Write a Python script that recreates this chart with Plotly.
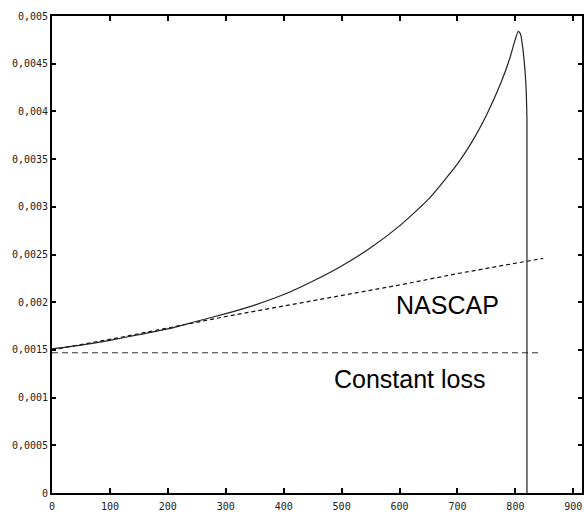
import plotly.graph_objects as go

# Solid curve (model)
curve_x = [0, 50, 100, 150, 200, 250, 300, 350, 400, 450, 500, 550, 600, 650, 700, 725, 750,
           775, 790, 800, 805, 809, 812, 815, 818, 820, 820]
curve_y = [0.00151, 0.00155, 0.00160, 0.00166, 0.00172, 0.00180, 0.00188, 0.00197, 0.00208,
           0.00222, 0.00238, 0.00257, 0.00280, 0.00308, 0.00345, 0.00368, 0.00396, 0.00430,
           0.00455, 0.00476, 0.00484, 0.00481, 0.00470, 0.00454, 0.00430, 0.00390, 0.0]

# NASCAP (dashed)
nascap_x = [0, 100, 200, 300, 400, 500, 600, 700, 800, 848]
nascap_y = [0.00150, 0.00161, 0.00173, 0.00185, 0.00196, 0.00207, 0.00218, 0.00230, 0.00241, 0.00246]

# Constant loss (dashed)
const_x = [0, 843]
const_y = [0.00147, 0.00147]

x_ticks = [0, 100, 200, 300, 400, 500, 600, 700, 800, 900]
y_ticks = [0, 0.0005, 0.001, 0.0015, 0.002, 0.0025, 0.003, 0.0035, 0.004, 0.0045, 0.005]
y_tick_labels = ["0", "0,0005", "0,001", "0,0015", "0,002", "0,0025", "0,003", "0,0035",
                 "0,004", "0,0045", "0,005"]

fig = go.Figure()
fig.add_trace(go.Scatter(x=const_x, y=const_y, mode="lines",
                         line=dict(color="#333333", width=1, dash="6px,4px"), showlegend=False))
fig.add_trace(go.Scatter(x=nascap_x, y=nascap_y, mode="lines",
                         line=dict(color="#111111", width=1.2, dash="4px,3px"), showlegend=False))
fig.add_trace(go.Scatter(x=curve_x, y=curve_y, mode="lines", line_shape="spline",
                         line=dict(color="#222222", width=1.2, smoothing=0.5), showlegend=False))

fig.add_annotation(x=682, y=0.00197, xref="x", yref="y", text="NASCAP", showarrow=False,
                   font=dict(family="Liberation Sans, Arial", size=25, color="black"))
fig.add_annotation(x=618, y=0.00120, xref="x", yref="y", text="Constant loss", showarrow=False,
                   font=dict(family="Liberation Sans, Arial", size=25, color="black"))

fig.update_layout(
    width=584, height=516,
    margin=dict(l=52, r=2, t=16, b=23),
    paper_bgcolor="white", plot_bgcolor="white",
    font=dict(family="DejaVu Sans Mono", size=10, color="black"),
    xaxis=dict(range=[0, 915], tickvals=x_ticks, ticks="inside", ticklen=5, tickwidth=1.5,
               tickcolor="black", showline=True, linecolor="black", linewidth=2,
               mirror="ticks", showgrid=False, zeroline=False, automargin=False,
               ticklabelstandoff=3,
               tickfont=dict(family="DejaVu Sans Mono", size=10, color="#222222")),
    yaxis=dict(range=[0, 0.005], tickvals=y_ticks, ticktext=y_tick_labels, ticks="inside",
               ticklen=4, tickwidth=1.5, tickcolor="black", showline=True, linecolor="black",
               linewidth=2, mirror="ticks", showgrid=False, zeroline=False, automargin=False,
               tickfont=dict(family="DejaVu Sans Mono", size=10, color="#222222")),
)

fig.write_html("out.html", config={"displayModeBar": False},
               post_script="document.body.style.margin='0';document.body.style.overflow='hidden';")
